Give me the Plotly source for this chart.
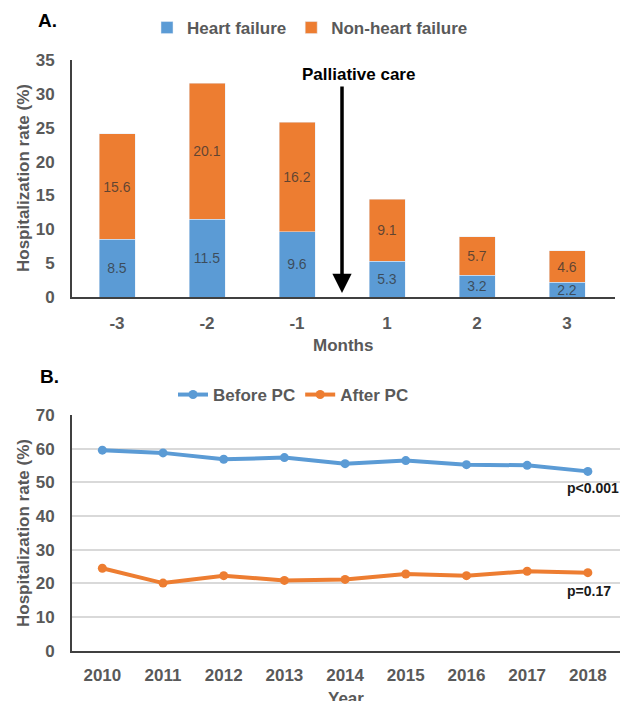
import plotly.graph_objects as go

# ---------------- data ----------------
months = ["-3", "-2", "-1", "1", "2", "3"]
heart_failure = [8.5, 11.5, 9.6, 5.3, 3.2, 2.2]
non_heart_failure = [15.6, 20.1, 16.2, 9.1, 5.7, 4.6]

years = [2010, 2011, 2012, 2013, 2014, 2015, 2016, 2017, 2018]
before_pc = [59.6, 58.8, 56.9, 57.4, 55.6, 56.5, 55.3, 55.1, 53.3]
after_pc = [24.5, 20.1, 22.3, 20.9, 21.2, 22.8, 22.3, 23.6, 23.2]

W, H = 620, 701
BLUE = "#5B9BD5"
ORANGE = "#ED7D31"
GREY = "#595959"
AXIS = "#404040"
FONT = "Liberation Sans"


def px_x(p):
    return p / W


def px_y(p):
    return 1 - p / H


idx = list(range(len(months)))
label_font = dict(family=FONT, size=14, color="rgba(50,50,50,0.75)")

fig = go.Figure()
fig.add_trace(go.Bar(
    x=idx, y=heart_failure, name="Heart failure", marker_color=BLUE,
    text=[f"{v:.1f}" for v in heart_failure], textposition="inside",
    insidetextanchor="middle", textangle=0, constraintext="none",
    textfont=label_font, xaxis="x", yaxis="y", legend="legend"))
fig.add_trace(go.Bar(
    x=idx, y=non_heart_failure, name="Non-heart failure", marker_color=ORANGE,
    text=[f"{v:.1f}" for v in non_heart_failure], textposition="inside",
    insidetextanchor="middle", textangle=0, constraintext="none",
    textfont=label_font, xaxis="x", yaxis="y", legend="legend"))

fig.add_trace(go.Scatter(
    x=years, y=before_pc, name="Before PC", mode="lines+markers",
    line=dict(color=BLUE, width=4), marker=dict(color=BLUE, size=9),
    xaxis="x2", yaxis="y2", legend="legend2"))
fig.add_trace(go.Scatter(
    x=years, y=after_pc, name="After PC", mode="lines+markers",
    line=dict(color=ORANGE, width=4), marker=dict(color=ORANGE, size=9),
    xaxis="x2", yaxis="y2", legend="legend2"))

tickfont = dict(family=FONT, size=17, color=GREY, weight="bold")
titlefont = dict(family=FONT, size=17, color=GREY, weight="bold")

common = dict(zeroline=False, showline=True, linecolor=AXIS, linewidth=2,
              ticks="", tickfont=tickfont, automargin=False)

fig.update_layout(
    width=W, height=H,
    margin=dict(l=0, r=0, t=0, b=0, pad=0),
    paper_bgcolor="white", plot_bgcolor="white",
    barmode="stack", bargap=0.6,
    showlegend=True,
    xaxis=dict(
        domain=[px_x(72), px_x(615)], range=[-0.5, 5.533], anchor="y",
        tickvals=idx, ticktext=months, showgrid=False,
        ticklabelstandoff=10, **common),
    yaxis=dict(
        domain=[px_y(297), px_y(60)], range=[0, 35], dtick=5, anchor="x",
        showgrid=False, ticklabelstandoff=12, **common),
    xaxis2=dict(
        domain=[px_x(72), 1.0], range=[2009.5, 2018.53], anchor="y2",
        dtick=1, showgrid=False, ticklabelstandoff=8, **common),
    yaxis2=dict(
        domain=[px_y(650.7), px_y(415.2)], range=[0, 70], dtick=10,
        anchor="x2", showgrid=True, gridcolor="#D9D9D9", gridwidth=1.5,
        ticklabelstandoff=12, **common),
    legend=dict(
        orientation="h", x=px_x(147), y=px_y(28), xanchor="left",
        yanchor="middle", bgcolor="rgba(0,0,0,0)",
        font=dict(family=FONT, size=17, color=GREY, weight="bold"),
        traceorder="normal"),
    legend2=dict(
        orientation="h", x=px_x(173), y=px_y(395), xanchor="left",
        yanchor="middle", bgcolor="rgba(0,0,0,0)",
        font=dict(family=FONT, size=17, color=GREY, weight="bold"),
        traceorder="normal"),
)

bold_black = dict(family=FONT, size=19, color="black", weight="bold")
annotations = [
    dict(text="A.", xref="paper", yref="paper", x=px_x(36), y=px_y(20),
         xanchor="left", yanchor="middle", showarrow=False, font=bold_black),
    dict(text="B.", xref="paper", yref="paper", x=px_x(38), y=px_y(376),
         xanchor="left", yanchor="middle", showarrow=False, font=bold_black),
    # axis titles
    dict(text="Hospitalization rate (%)", xref="paper", yref="paper",
         x=px_x(23), y=px_y(178), textangle=-90, showarrow=False,
         xanchor="center", yanchor="middle", font=titlefont),
    dict(text="Hospitalization rate (%)", xref="paper", yref="paper",
         x=px_x(23), y=px_y(533), textangle=-90, showarrow=False,
         xanchor="center", yanchor="middle", font=titlefont),
    dict(text="Months", xref="paper", yref="paper",
         x=px_x(343), y=px_y(346), showarrow=False,
         xanchor="center", yanchor="middle", font=titlefont),
    dict(text="Year", xref="paper", yref="paper",
         x=px_x(346), y=px_y(698), showarrow=False,
         xanchor="center", yanchor="middle", font=titlefont),
    # palliative care marker
    dict(text="", xref="x", yref="y", axref="x", ayref="y",
         x=2.5, y=0.6, ax=2.5, ay=31.3, showarrow=True,
         arrowhead=2, arrowsize=1.1, arrowwidth=3.5, arrowcolor="black"),
    dict(text="Palliative care", xref="x", yref="y", x=2.68, y=32.8,
         showarrow=False, xanchor="center", yanchor="middle",
         font=dict(family=FONT, size=17, color="black", weight="bold")),
    # p-values
    dict(text="p&lt;0.001", xref="x2", yref="y2", x=2017.62, y=48.4,
         showarrow=False, xanchor="left", yanchor="middle",
         font=dict(family=FONT, size=14, color="#1a1a1a", weight="bold")),
    dict(text="p=0.17", xref="x2", yref="y2", x=2017.62, y=17.7,
         showarrow=False, xanchor="left", yanchor="middle",
         font=dict(family=FONT, size=14, color="#1a1a1a", weight="bold")),
]
fig.update_layout(annotations=annotations)

fig.write_html(
    "out.html",
    config={"displayModeBar": False},
    post_script="document.body.style.margin='0';document.body.style.overflow='hidden';",
)
